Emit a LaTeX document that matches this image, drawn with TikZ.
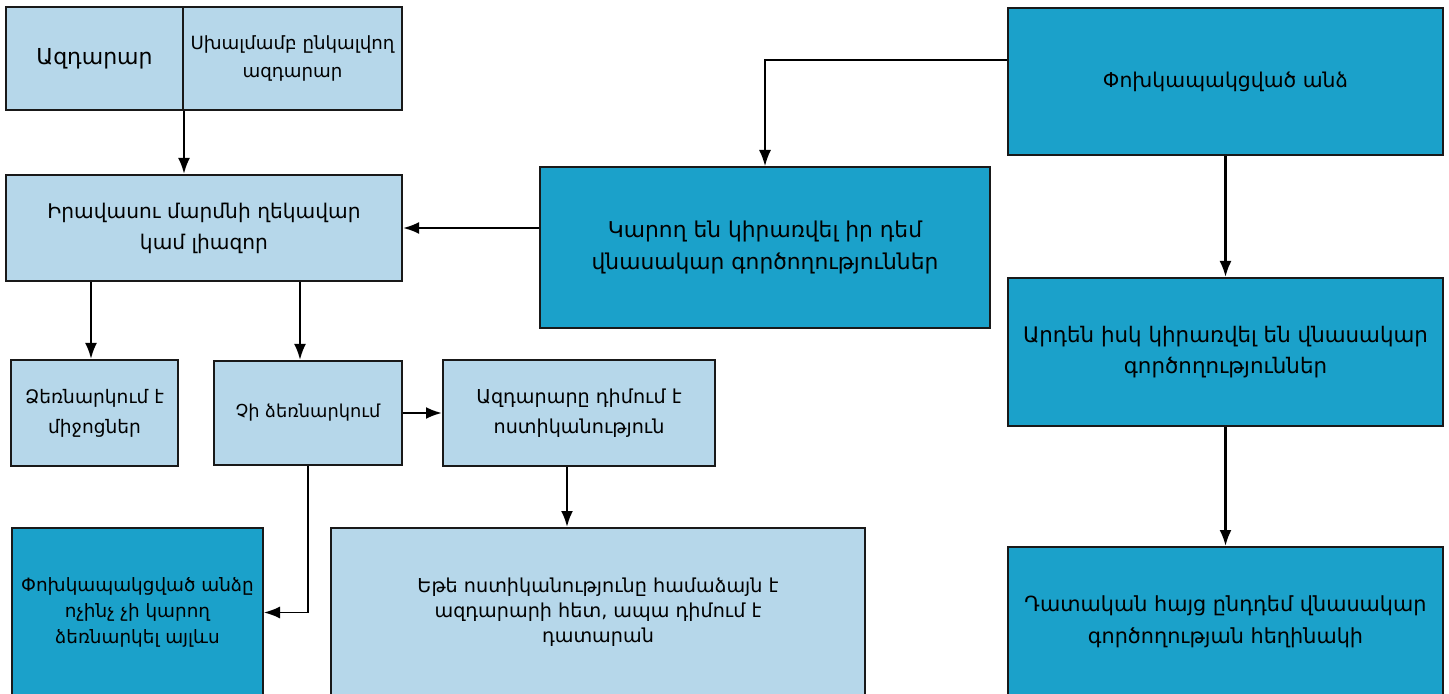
\documentclass[tikz,border=0pt]{standalone}
\usepackage{fontspec}
\setmainfont{DejaVu Sans}
\usepackage{tikz}
\usetikzlibrary{positioning,arrows.meta}
\definecolor{lightbox}{RGB}{182,215,234}
\definecolor{darkbox}{RGB}{27,161,202}
\tikzstyle{pale} = [draw=black!90, fill=lightbox, line width=1pt,
    rectangle, align=center, inner sep=2pt]
\tikzstyle{deep} = [draw=black!90, fill=darkbox, line width=1pt,
    rectangle, align=center, inner sep=2pt]
\tikzstyle{bigtxt} = [font=\fontsize{10.7}{15.5}\selectfont]
\tikzstyle{midtxt} = [font=\fontsize{9.6}{12.5}\selectfont]
\tikzstyle{smalltxt} = [font=\fontsize{9.3}{15}\selectfont]
\tikzstyle{flow} = [line width=1.2pt, -{Latex[length=8pt,width=6pt]}]
\tikzstyle{thinflow} = [line width=0.75pt, -{Latex[length=8pt,width=6pt]}]

\begin{document}
\begin{tikzpicture}[x=0.5pt,y=-0.5pt]
\useasboundingbox (0,0) rectangle (1449,694);

% upper left
\node [pale, minimum width=88.5pt, minimum height=51.5pt,
    font=\fontsize{11}{15}\selectfont] (whistle) at (94.5,58.5) {Ազդարար};
\node [pale, minimum width=109.5pt, minimum height=51.5pt,
    font=\fontsize{9.1}{14}\selectfont] (misperc) at (292.5,58.5)
    {Սխալմամբ ընկալվող\\ազդարար};
\node [pale, minimum width=198pt, minimum height=53pt,
    font=\fontsize{10.1}{15.5}\selectfont] (head) at (204,228)
    {Իրավասու մարմնի ղեկավար\\կամ լիազոր};

\node [pale, smalltxt, minimum width=83.5pt, minimum height=53pt] (takes) at (94.5,413)
    {Ձեռնարկում է\\միջոցներ};
\node [pale, minimum width=94pt, minimum height=52pt,
    font=\fontsize{8.9}{15}\selectfont] (nottakes) at (308,413)
    {Չի ձեռնարկում};
\node [pale, minimum width=136pt, minimum height=53pt,
    font=\fontsize{9.6}{15}\selectfont] (police) at (579,413)
    {Ազդարարը դիմում է\\ոստիկանություն};

\node [deep, minimum width=125.5pt, minimum height=84.5pt,
    font=\fontsize{9.2}{12.8}\selectfont] (nothing) at (137.5,612.5)
    {Փոխկապակցված անձը\\ոչինչ չի կարող\\ձեռնարկել այլևս};
\node [pale, midtxt, minimum width=267pt, minimum height=84.5pt] (court) at (598,612.5)
    {Եթե ոստիկանությունը համաձայն է\\ազդարարի հետ, ապա դիմում է\\դատարան};

% middle and right
\node [deep, font=\fontsize{10.9}{16}\selectfont, minimum width=225pt,
    minimum height=80.5pt] (harm) at (765,247.5)
    {Կարող են կիրառվել իր դեմ\\վնասակար գործողություններ};
\node [deep, font=\fontsize{10.2}{15.5}\selectfont, minimum width=217.5pt,
    minimum height=73.5pt] (related) at (1225.5,81.5)
    {Փոխկապակցված անձ};
\node [deep, bigtxt, minimum width=217.5pt, minimum height=74pt] (applied) at (1225.5,352)
    {Արդեն իսկ կիրառվել են վնասակար\\գործողություններ};
\node [deep, font=\fontsize{10.4}{16}\selectfont, minimum width=217.5pt,
    minimum height=75pt] (lawsuit) at (1225.5,622)
    {Դատական հայց ընդդեմ վնասակար\\գործողության հեղինակի};

\draw [flow] (whistle.south east) -- (whistle.south east |- head.north);
\draw [flow] (harm.west |- head.east) -- (head.east);
\draw [thinflow] ([yshift=10.75pt]related.west) -| (harm.north);
\draw [flow] (related.south) -- (applied.north);
\draw [flow] (applied.south) -- (lawsuit.north);
\draw [flow] ([xshift=-1.75pt]head.south -| takes.north) -- ([xshift=-1.75pt]takes.north);
\draw [flow] ([xshift=-4pt]nottakes.north |- head.south) -- ([xshift=-4pt]nottakes.north);
\draw [flow] (nottakes.east) -- (police.west);
\draw [thinflow] (nottakes.south) |- (nothing.east);
\draw [flow] ([xshift=-6pt]police.south) -- ([xshift=-6pt]police.south |- court.north);

\end{tikzpicture}
\end{document}
